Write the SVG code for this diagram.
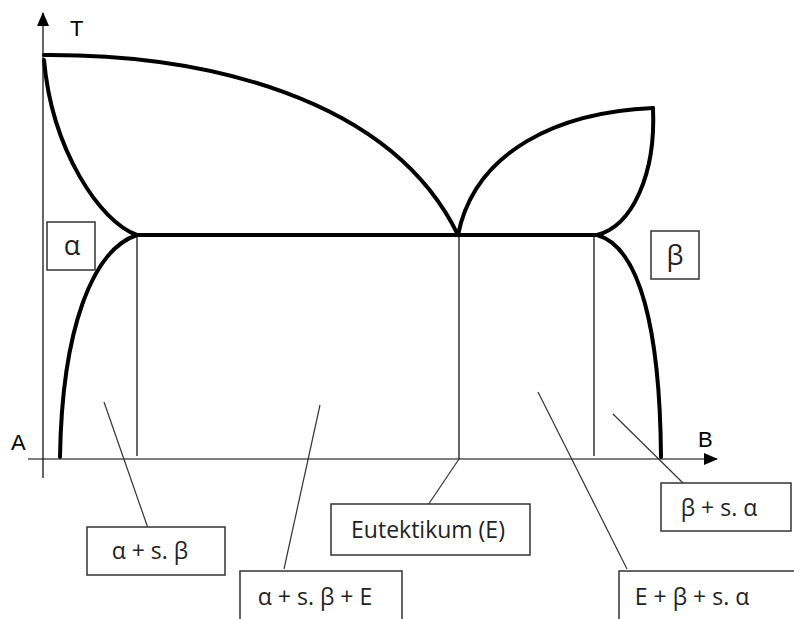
<svg xmlns="http://www.w3.org/2000/svg" width="794" height="619" viewBox="0 0 794 619">
<style>
.thick{fill:none;stroke:#000;stroke-width:4;stroke-linecap:round}
.thin{fill:none;stroke:#000;stroke-width:1.2}
.lead{fill:none;stroke:#333;stroke-width:1.2}
.box{fill:#fff;stroke:#333;stroke-width:1.5}
.lbl{font-family:"Open Sans","Noto Sans",sans-serif;font-size:23px;fill:#222;text-anchor:middle}
.gr{font-size:27px}
.ax{font-family:"Liberation Sans",Arial,sans-serif;font-size:22px;fill:#000}
</style>
<defs>
<marker id="arrL" markerWidth="14" markerHeight="12" refX="13" refY="6" orient="auto" markerUnits="userSpaceOnUse" viewBox="0 0 14 12">
<path d="M0,0 L14,6 L0,12 z" fill="#000"/>
</marker>
</defs>
<rect width="794" height="619" fill="#fff"/>
<g id="axes">
<line class="thin" x1="43" y1="478" x2="43" y2="13" marker-end="url(#arrL)"/>
<line class="thin" x1="28" y1="459" x2="717" y2="459" marker-end="url(#arrL)"/>
<text class="ax" x="70" y="36">T</text>
<text class="ax" x="11" y="450">A</text>
<text class="ax" x="698" y="447">B</text>
</g>
<g id="curves">
<path class="thick" d="M44,55 C200,54 390,95 458,235"/>
<path class="thick" d="M44,60 C52,150 100,222 137,235"/>
<path class="thick" d="M137,235 L597,235"/>
<path class="thick" d="M458,235 C475,150 560,112 653,108"/>
<path class="thick" d="M653,108 C656,175 632,226 597,235"/>
<path class="thick" d="M137,235 C92,250 62,330 60,457"/>
<path class="thick" d="M597,235 C640,247 660,330 661,457"/>
<line class="thin" x1="137" y1="235" x2="137" y2="456"/>
<line class="thin" x1="459" y1="235" x2="459" y2="459"/>
<line class="thin" x1="594" y1="235" x2="594" y2="456"/>
</g>
<g id="connectors">
<line class="lead" x1="104" y1="402" x2="149" y2="531"/>
<line class="lead" x1="320" y1="405" x2="284" y2="569"/>
<line class="lead" x1="459" y1="459" x2="428" y2="505"/>
<line class="lead" x1="538" y1="392" x2="627" y2="569"/>
<line class="lead" x1="613" y1="414" x2="684" y2="484"/>
</g>
<g id="alpha">
<rect class="box" x="47" y="222" width="48" height="48"/>
<text class="lbl gr" x="72" y="255">α</text>
</g>
<g id="beta">
<rect class="box" x="651" y="231" width="48" height="48"/>
<text class="lbl gr" x="675" y="265">β</text>
</g>
<g id="alpha_sbeta">
<rect class="box" x="87" y="527" width="138" height="48"/>
<text class="lbl" x="150" y="559">α + s. β</text>
</g>
<g id="alpha_sbeta_E">
<rect class="box" x="240" y="571" width="162" height="52"/>
<text class="lbl" x="315" y="605">α + s. β + E</text>
</g>
<g id="eutektikum">
<rect class="box" x="331" y="504" width="199" height="51"/>
<text class="lbl" x="428" y="538">Eutektikum (E)</text>
</g>
<g id="beta_salpha">
<rect class="box" x="661" y="483" width="130" height="48"/>
<text class="lbl" x="719" y="516">β + s. α</text>
</g>
<g id="E_beta_salpha">
<rect class="box" x="619" y="571" width="178" height="52"/>
<text class="lbl" x="692" y="605">E + β + s. α</text>
</g>
</svg>
